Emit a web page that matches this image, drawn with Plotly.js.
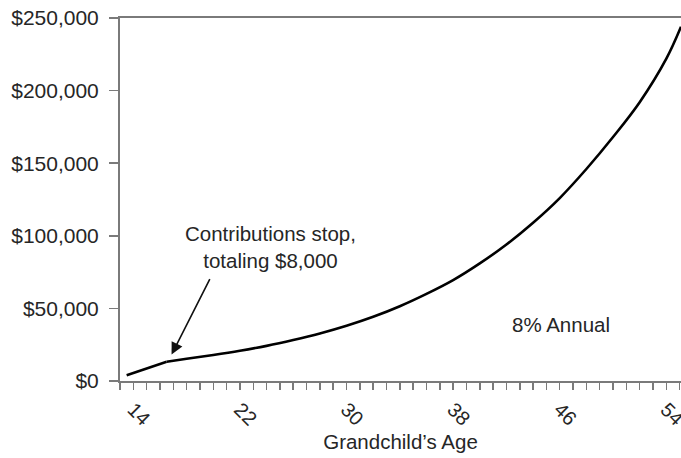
<!DOCTYPE html>
<html>
<head>
<meta charset="utf-8">
<script src="https://cdn.plot.ly/plotly-3.0.1.min.js"></script>
<style>html,body{margin:0;padding:0;background:#fff;}#chart{width:681px;height:458px;}</style>
</head>
<body>
<div id="chart"></div>
<script>
// Data
var contribAges = [13.5, 16.5];
var contribBalances = [4000, 13200];
var growthAges = [16.5, 18, 20, 22, 24, 26, 28, 30, 32, 34, 36, 38, 40, 42, 44, 46, 48, 50, 52, 54, 55.1];
var growthBalances = [13200, 15300, 17900, 20800, 24200, 28200, 32700, 38000, 44200, 51500, 60000, 69500, 81000, 94000, 109000, 126000, 146000, 168000, 192000, 222000, 244000];
var xTickVals = [14, 22, 30, 38, 46, 54];
var xTickText = ['14', '22', '30', '38', '46', '54'];
var yTickVals = [0, 50000, 100000, 150000, 200000, 250000];
var yTickText = ['$0', '$50,000', '$100,000', '$150,000', '$200,000', '$250,000'];
var stopAge = 16.87, stopValue = 18200;
var noteText = 'Contributions stop,<br>totaling $8,000';
var rateText = '8% Annual';

var FONT = 'Liberation Sans, Arial, Helvetica, sans-serif';
var TXT = '#262626';
var AX = '#7a7a7a';

var traces = [
  {x: contribAges, y: contribBalances, type: 'scatter', mode: 'lines',
   line: {color: '#000', width: 2.6}, hoverinfo: 'skip'},
  {x: growthAges, y: growthBalances, type: 'scatter', mode: 'lines',
   line: {color: '#000', width: 2.6, shape: 'spline', smoothing: 1}, hoverinfo: 'skip'}
];

var layout = {
  width: 681, height: 458,
  margin: {l: 120, r: 0, t: 18, b: 77},
  paper_bgcolor: '#fff', plot_bgcolor: '#fff',
  showlegend: false,
  font: {family: FONT, color: TXT, size: 20},
  xaxis: {
    range: [13, 55.1], showgrid: false, zeroline: false,
    showline: true, linecolor: AX, linewidth: 2, mirror: true,
    ticks: 'outside', ticklen: 7, tickcolor: AX, tickwidth: 1.5,
    tickvals: xTickVals, ticktext: xTickText, tickangle: 45,
    ticklabeloverflow: 'allow',
    tickfont: {family: FONT, size: 20, color: TXT},
    minor: {dtick: 1, tick0: 14, ticks: 'outside', ticklen: 7, tickcolor: AX, tickwidth: 1.5, showgrid: false},
    title: {text: 'Grandchild\u2019s Age', font: {family: FONT, size: 20.5, color: TXT}, standoff: 6}
  },
  yaxis: {
    range: [0, 250000], showgrid: false, zeroline: false,
    showline: true, linecolor: AX, linewidth: 2,
    ticks: 'outside', ticklen: 9, tickcolor: AX, tickwidth: 1.5,
    tickvals: yTickVals, ticktext: yTickText,
    tickfont: {family: FONT, size: 21, color: TXT},
    ticklabelstandoff: 6
  },
  annotations: [
    {x: 24.3, y: 92500, xref: 'x', yref: 'y', text: noteText, showarrow: false,
     font: {family: FONT, size: 20.5, color: TXT}, align: 'center'},
    {x: stopAge, y: stopValue, xref: 'x', yref: 'y', text: '', showarrow: true,
     ax: 39, ay: -77, arrowhead: 2, arrowsize: 1.5, arrowwidth: 1.6, arrowcolor: '#111', standoff: 0},
    {x: 46.1, y: 38900, xref: 'x', yref: 'y', text: rateText, showarrow: false,
     font: {family: FONT, size: 20.5, color: TXT}}
  ]
};

Plotly.newPlot('chart', traces, layout, {staticPlot: true, displayModeBar: false});
</script>
</body>
</html>
